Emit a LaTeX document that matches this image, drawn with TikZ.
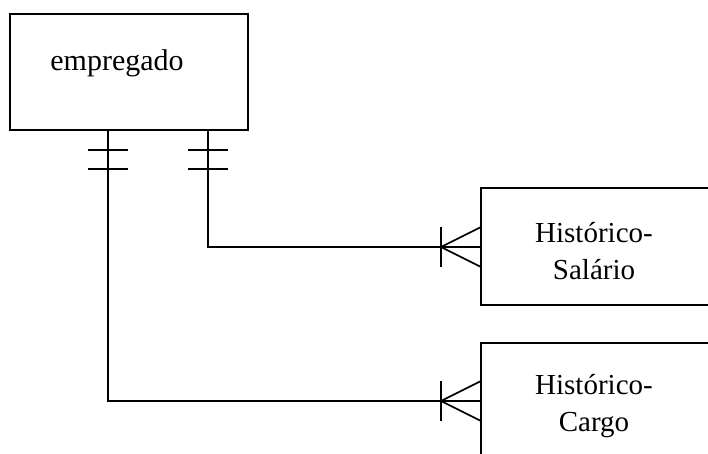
\documentclass[tikz,border=0pt]{standalone}
\usepackage{fontspec}
\setmainfont{Liberation Serif}
\begin{document}
\begin{tikzpicture}[x=1pt,y=-1pt,line width=1.6pt,
  entity/.style={draw,line width=1.6pt},
  lbl/.style={font=\fontsize{29}{37}\selectfont,align=center,inner sep=0pt},
  conn/.style={line width=1.4pt},
  tick/.style={line width=1.6pt}]
\useasboundingbox (0,0) rectangle (708,454);
% empregado
\draw[entity] (10,14) rectangle (248,130);
\node[lbl,font=\fontsize{30}{37}\selectfont,anchor=base] (emp) at (117,71) {empregado};
\coordinate (empL) at (108,130);
\coordinate (empR) at (208,130);
% Historico-Salario box (open to the right)
\draw[entity] (712,188) -- (481,188) -- (481,305) -- (712,305);
\node[lbl] (hs) at (594,251) {Histórico-\\Salário};
\coordinate (hsIn) at (481,247);
% Historico-Cargo box (open to right and bottom)
\draw[entity] (712,343) -- (481,343) -- (481,460);
\node[lbl] (hc) at (594,406) {Histórico-\\Cargo};
\coordinate (hcIn) at (481,401);
% connectors
\draw[conn] (empR) |- (hsIn);
\draw[conn] (empL) |- (hcIn);
% one-and-only-one marks
\foreach \c in {empL,empR}{
  \draw[tick] ([xshift=-20pt,yshift=-20pt]\c) -- ([xshift=20pt,yshift=-20pt]\c);
  \draw[tick] ([xshift=-20pt,yshift=-39pt]\c) -- ([xshift=20pt,yshift=-39pt]\c);
}
% crow's feet with bar
\foreach \c in {hsIn,hcIn}{
  \draw[tick] ([xshift=-40pt,yshift=-20pt]\c) -- ([xshift=-40pt,yshift=20pt]\c);
  \draw[tick] ([yshift=-20pt]\c) -- ([xshift=-40pt]\c) -- ([yshift=20pt]\c);
}
\end{tikzpicture}
\end{document}
